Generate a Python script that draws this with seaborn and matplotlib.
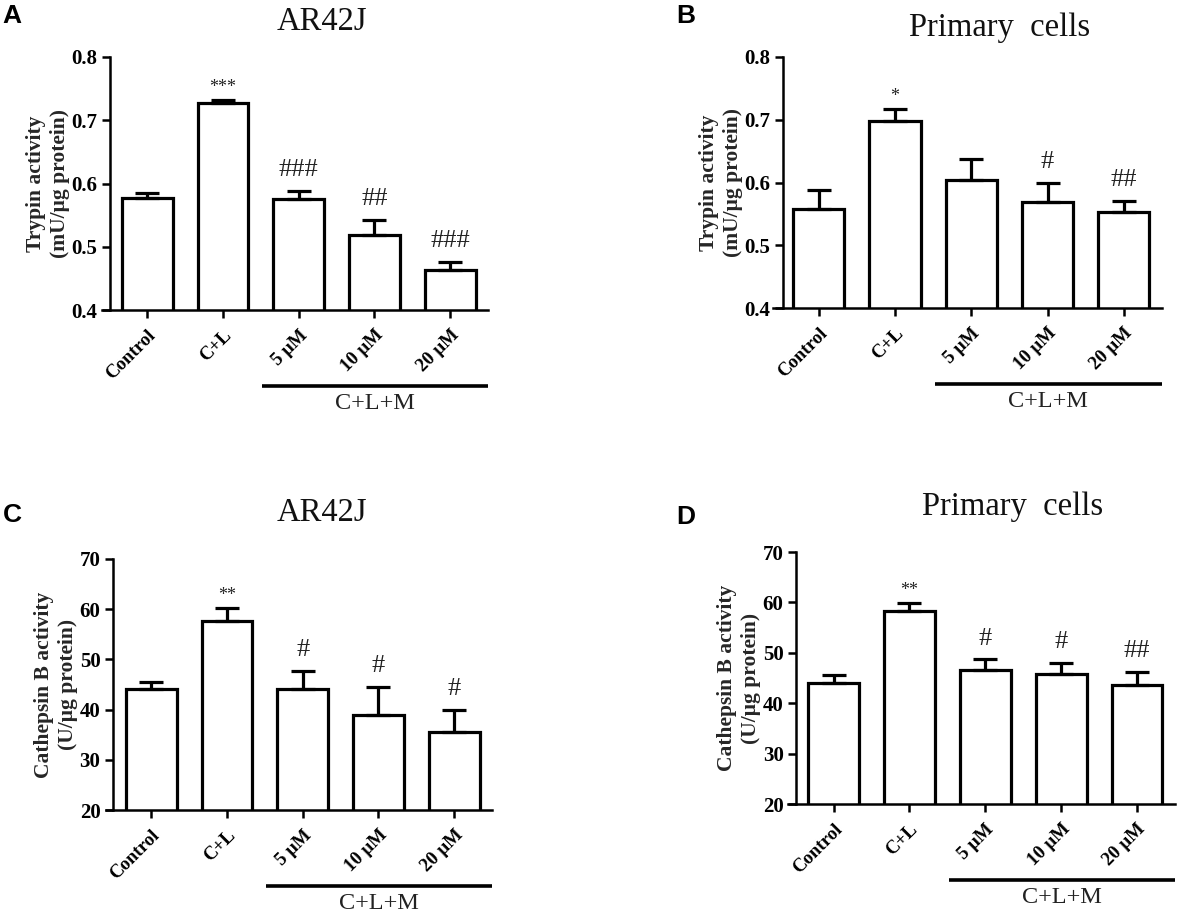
import matplotlib
matplotlib.use("Agg")
import matplotlib.pyplot as plt
import matplotlib.transforms as mtransforms
import seaborn as sns
import pandas as pd

sns.set_theme(style="white")
plt.rcParams['font.family'] = ['Liberation Serif', 'DejaVu Serif']

# ---------------- data ----------------
groups = ["Control", "C+L", "5 μM", "10 μM", "20 μM"]
bracket_label = "C+L+M"

trypsin_ar42j = [0.577, 0.727, 0.576, 0.518, 0.464]
trypsin_ar42j_sem = [0.008, 0.005, 0.012, 0.024, 0.012]
trypsin_ar42j_marks = ["", "***", "###", "##", "###"]

trypsin_primary = [0.558, 0.698, 0.604, 0.569, 0.553]
trypsin_primary_sem = [0.030, 0.019, 0.034, 0.030, 0.018]
trypsin_primary_marks = ["", "*", "", "#", "##"]

cathepsin_ar42j = [44.2, 57.6, 44.2, 38.9, 35.5]
cathepsin_ar42j_sem = [1.2, 2.6, 3.5, 5.6, 4.4]
cathepsin_ar42j_marks = ["", "**", "#", "#", "#"]

cathepsin_primary = [44.1, 58.3, 46.6, 45.7, 43.6]
cathepsin_primary_sem = [1.4, 1.5, 2.1, 2.3, 2.6]
cathepsin_primary_marks = ["", "**", "#", "#", "##"]

trypsin_ticks = [0.4, 0.5, 0.6, 0.7, 0.8]
trypsin_ticklabels = ["0.4", "0.5", "0.6", "0.7", "0.8"]
cathepsin_ticks = [20, 30, 40, 50, 60, 70]
cathepsin_ticklabels = ["20", "30", "40", "50", "60", "70"]

W, H = 1178, 914
fig = plt.figure(figsize=(W / 100, H / 100), dpi=100)
fig.patch.set_facecolor("white")

panels = [
    dict(letter="A", title="AR42J", vals=trypsin_ar42j, sem=trypsin_ar42j_sem,
         marks=trypsin_ar42j_marks, ticks=trypsin_ticks, tl=trypsin_ticklabels,
         ylabel="Trypin activity\n(mU/μg protein)",
         rect=(102, 488, 57, 310), spine=8, title_xy=(322, 22), letter_xy=(12, 16)),
    dict(letter="B", title="Primary  cells", vals=trypsin_primary, sem=trypsin_primary_sem,
         marks=trypsin_primary_marks, ticks=trypsin_ticks, tl=trypsin_ticklabels,
         ylabel="Trypin activity\n(mU/μg protein)",
         rect=(773, 1162, 57, 308), spine=10, title_xy=(1000, 28), letter_xy=(686, 16)),
    dict(letter="C", title="AR42J", vals=cathepsin_ar42j, sem=cathepsin_ar42j_sem,
         marks=cathepsin_ar42j_marks, ticks=cathepsin_ticks, tl=cathepsin_ticklabels,
         ylabel="Cathepsin B activity\n(U/μg protein)",
         rect=(106, 492, 559, 810), spine=7, title_xy=(322, 513), letter_xy=(12, 515)),
    dict(letter="D", title="Primary  cells", vals=cathepsin_primary, sem=cathepsin_primary_sem,
         marks=cathepsin_primary_marks, ticks=cathepsin_ticks, tl=cathepsin_ticklabels,
         ylabel="Cathepsin B activity\n(U/μg protein)",
         rect=(788, 1175, 552, 804), spine=8, title_xy=(1013, 507), letter_xy=(686, 517)),
]

for p in panels:
    l, r, t, b = p["rect"]
    ax = fig.add_axes([l / W, 1 - b / H, (r - l) / W, (b - t) / H])
    df = pd.DataFrame({"group": groups, "value": p["vals"]})
    sns.barplot(data=df, x="group", y="value", ax=ax, color="white",
                edgecolor="black", linewidth=2.3, width=0.67, errorbar=None,
                saturation=1)
    xs = list(range(len(groups)))
    ax.errorbar(xs, p["vals"], yerr=[[0] * len(groups), p["sem"]], fmt="none",
                ecolor="black", elinewidth=2.3, capsize=8.5, capthick=2.3, zorder=3)
    for s in ["top", "right"]:
        ax.spines[s].set_visible(False)
    for s in ["left", "bottom"]:
        ax.spines[s].set_color("black")
        ax.spines[s].set_linewidth(1.8)
    ax.spines["left"].set_position(("axes", p["spine"] / (r - l)))

    ax.set_xlim(-0.6, 4.5)
    ax.set_ylim(p["ticks"][0], p["ticks"][-1])
    ax.tick_params(axis="both", which="major", direction="out", length=6,
                   width=1.8, color="black", labelcolor="black", pad=3,
                   bottom=True, left=True)
    ax.tick_params(axis="x", pad=6)
    ax.set_yticks(p["ticks"])
    ax.set_yticklabels(p["tl"], fontsize=15, fontweight="bold")
    ax.set_xticks(xs)
    ax.set_xticklabels(groups, rotation=45, ha="right", rotation_mode="anchor",
                       fontsize=13.5, fontweight="bold")
    ax.set_xlabel("")
    ax.set_ylabel(p["ylabel"], fontsize=15.5, fontweight="bold", labelpad=1,
                  linespacing=1.3)
    ax.patch.set_alpha(0)

    # significance marks
    for x, v, e, m in zip(xs, p["vals"], p["sem"], p["marks"]):
        if not m:
            continue
        if "*" in m:
            ax.annotate(m, (x, v + e), xytext=(0, 3), textcoords="offset points",
                        ha="center", va="bottom", fontsize=13, color="#222222")
        else:
            ax.annotate(m, (x, v + e), xytext=(0, 7), textcoords="offset points",
                        ha="center", va="bottom", fontsize=19, color="#222222")

    # bracket for C+L+M
    trans = mtransforms.blended_transform_factory(ax.transData, ax.transAxes)
    yb = -76 / (b - t)
    ax.plot([1.52, 4.5], [yb, yb], color="black", lw=2.6, transform=trans,
            clip_on=False, solid_capstyle="butt")
    ax.text((1.52 + 4.5) / 2, yb - 7 / (b - t), bracket_label, transform=trans,
            ha="center", va="top", fontsize=17.5, color="#222222")

    fig.text(p["title_xy"][0] / W, 1 - p["title_xy"][1] / H, p["title"],
             ha="center", va="center", fontsize=23.5, color="#111111")
    fig.text(p["letter_xy"][0] / W, 1 - p["letter_xy"][1] / H, p["letter"],
             ha="center", va="center", fontsize=19, fontweight="bold",
             family=["Liberation Sans", "DejaVu Sans"], color="black")

fig.savefig("out.png", dpi=100, facecolor="white")
